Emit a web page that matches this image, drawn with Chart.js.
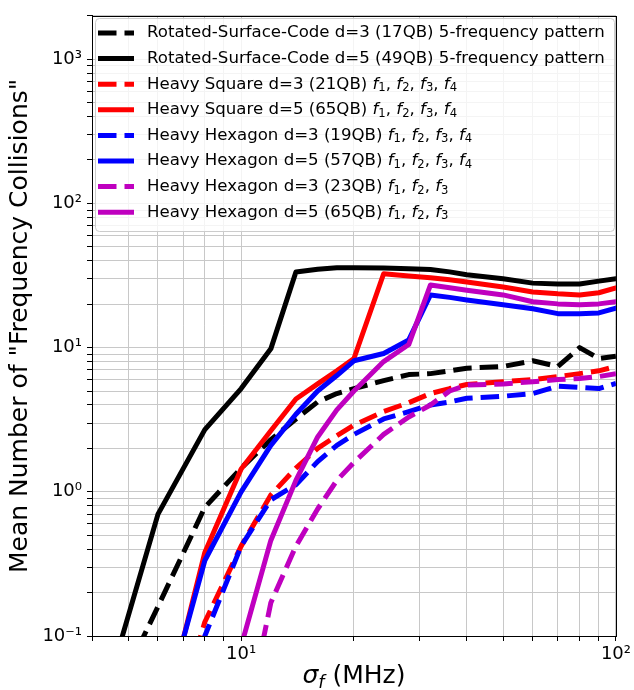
<!DOCTYPE html>
<html>
<head>
<meta charset="utf-8">
<script src="https://cdn.jsdelivr.net/npm/chart.js@4.4.1/dist/chart.umd.min.js"></script>
<style>
  html, body { margin: 0; padding: 0; background: #fff; }
</style>
</head>
<body>
<canvas id="chart" width="634" height="690"></canvas>
<script>
const sigmaValues = [4, 6, 8, 10, 12, 14, 16, 18, 20, 24, 28, 32, 36, 40, 50, 60, 70, 80, 90, 100];

const rsc3 = [0.018, 0.16, 0.78, 1.46, 2.3, 3.2, 4.2, 4.8, 5.2, 5.9, 6.5, 6.6, 6.9, 7.2, 7.4, 8.1, 7.4, 10.0, 8.4, 8.7];
const rsc5 = [0.019, 0.70, 2.7, 5.2, 9.8, 33.4, 35.0, 35.8, 35.8, 35.6, 35.2, 34.8, 33.5, 32.0, 30.0, 28.0, 27.6, 27.6, 28.9, 30.0];
const square3 = [null, 0.01, 0.125, 0.42, 0.95, 1.46, 2.0, 2.45, 2.9, 3.6, 4.15, 4.8, 5.2, 5.55, 5.8, 6.0, 6.3, 6.6, 6.9, 7.4];
const square5 = [null, 0.019, 0.38, 1.44, 2.65, 4.4, 5.6, 6.9, 8.4, 32.5, 31.4, 30.5, 29.5, 28.5, 26.3, 24.3, 23.6, 23.2, 24.0, 25.9];
const hex3 = [null, 0.008, 0.1, 0.42, 0.88, 1.12, 1.62, 2.1, 2.5, 3.2, 3.6, 4.0, 4.2, 4.45, 4.6, 4.8, 5.4, 5.3, 5.2, 5.65];
const hex5 = [null, 0.022, 0.334, 1.0, 2.1, 3.45, 5.0, 6.4, 8.1, 9.1, 11.3, 23.2, 22.3, 21.4, 19.8, 18.6, 17.2, 17.2, 17.4, 18.8];
const hex3b = [null, null, null, 0.017, 0.17, 0.42, 0.76, 1.2, 1.6, 2.5, 3.3, 4.0, 5.0, 5.5, 5.6, 5.8, 6.0, 6.1, 6.3, 6.6];
const hex5b = [null, null, null, 0.085, 0.46, 1.2, 2.4, 3.7, 5.0, 8.0, 10.5, 27.2, 26.0, 25.0, 23.2, 20.8, 20.1, 19.8, 20.1, 20.8];

const seriesNames = [
  "Rotated-Surface-Code d=3 (17QB) 5-frequency pattern",
  "Rotated-Surface-Code d=5 (49QB) 5-frequency pattern",
  "Heavy Square d=3 (21QB)",
  "Heavy Square d=5 (65QB)",
  "Heavy Hexagon d=3 (19QB)",
  "Heavy Hexagon d=5 (57QB)",
  "Heavy Hexagon d=3 (23QB)",
  "Heavy Hexagon d=5 (65QB)"
];
const seriesFreqs = [[], [], [1, 2, 3, 4], [1, 2, 3, 4], [1, 2, 3, 4], [1, 2, 3, 4], [1, 2, 3], [1, 2, 3]];
const seriesColors = ["#000000", "#000000", "#ff0000", "#ff0000", "#0000ff", "#0000ff", "#bf00bf", "#bf00bf"];
const seriesDashed = [true, false, true, false, true, false, true, false];
const seriesData = [rsc3, rsc5, square3, square5, hex3, hex5, hex3b, hex5b];

const xTickValues = [4, 5, 6, 7, 8, 9, 10, 20, 30, 40, 50, 60, 70, 80, 90, 100];
const xMajorTicks = [10, 100];
const xMajorLabels = ["10\u00b9", "10\u00b2"];
const yTickValues = [0.1, 0.2, 0.3, 0.4, 0.5, 0.6, 0.7, 0.8, 0.9,
  1, 2, 3, 4, 5, 6, 7, 8, 9,
  10, 20, 30, 40, 50, 60, 70, 80, 90,
  100, 200, 300, 400, 500, 600, 700, 800, 900, 1000, 2000];
const yMajorTicks = [0.1, 1, 10, 100, 1000];
const yMajorLabels = ["10\u207b\u00b9", "10\u2070", "10\u00b9", "10\u00b2", "10\u00b3"];

const FONT = "DejaVu Sans";
const LW = 5;
const DASH = [18.5, 8];
const gridColor = "#c8c8c8";
const legendSize = 16.6;
const titleSize = 25;

function majorLabel(value, majors, labels) {
  const i = majors.findIndex((m) => Math.abs(m - value) / m < 1e-6);
  return i >= 0 ? labels[i] : "";
}

const datasets = seriesData.map((values, i) => ({
  label: seriesNames[i],
  data: values.map((v, k) => ({ x: sigmaValues[k], y: v })),
  borderColor: seriesColors[i],
  borderWidth: LW,
  borderDash: seriesDashed[i] ? DASH : [],
  borderCapStyle: seriesDashed[i] ? "butt" : "round",
  borderJoinStyle: "round",
  pointRadius: 0,
  fill: false,
  tension: 0,
  spanGaps: false,
  clip: 0,
  order: -i
}));

const decorations = {
  id: "decorations",
  afterDraw(chart) {
    const ctx = chart.ctx;
    const area = chart.chartArea;
    ctx.save();

    // frame
    ctx.strokeStyle = "#000";
    ctx.lineWidth = 1;
    ctx.strokeRect(Math.round(area.left) + 0.5, Math.round(area.top) + 0.5,
      Math.round(area.right - area.left), Math.round(area.bottom - area.top));

    // legend
    const box = { x: 95, y: 18, w: 519, h: 213 };
    ctx.beginPath();
    ctx.roundRect(box.x + 0.5, box.y + 0.5, box.w, box.h, 4);
    ctx.fillStyle = "rgba(255,255,255,0.8)";
    ctx.fill();
    ctx.strokeStyle = "#cccccc";
    ctx.stroke();

    seriesNames.forEach((name, i) => {
      const y = 33 + i * 25.6;
      ctx.beginPath();
      ctx.strokeStyle = seriesColors[i];
      ctx.lineWidth = LW;
      ctx.setLineDash(seriesDashed[i] ? DASH : []);
      ctx.lineCap = "butt";
      ctx.moveTo(98, y);
      ctx.lineTo(134, y);
      ctx.stroke();
      ctx.setLineDash([]);

      ctx.fillStyle = "#000";
      ctx.textBaseline = "middle";
      ctx.textAlign = "left";
      ctx.font = `${legendSize}px "${FONT}"`;
      let x = 147;
      ctx.fillText(name, x, y);
      x += ctx.measureText(name + " ").width;
      const freqs = seriesFreqs[i];
      freqs.forEach((n, k) => {
        ctx.font = `italic ${legendSize}px "${FONT}"`;
        ctx.fillText("f", x, y);
        x += ctx.measureText("f").width;
        ctx.font = `${legendSize * 0.7}px "${FONT}"`;
        ctx.fillText(String(n), x, y + 4);
        x += ctx.measureText(String(n)).width;
        if (k < freqs.length - 1) {
          ctx.font = `${legendSize}px "${FONT}"`;
          ctx.fillText(", ", x, y);
          x += ctx.measureText(", ").width;
        }
      });
    });

    // axis titles
    ctx.fillStyle = "#000";
    ctx.textBaseline = "alphabetic";
    ctx.textAlign = "left";
    ctx.font = `italic ${titleSize}px "${FONT}"`;
    const wSigma = ctx.measureText("\u03c3").width;
    ctx.font = `italic ${titleSize * 0.7}px "${FONT}"`;
    const wF = ctx.measureText("f").width;
    ctx.font = `${titleSize}px "${FONT}"`;
    const wRest = ctx.measureText(" (MHz)").width;
    let tx = (area.left + area.right) / 2 - (wSigma + wF + wRest) / 2;
    const ty = 683;
    ctx.font = `italic ${titleSize}px "${FONT}"`;
    ctx.fillText("\u03c3", tx, ty);
    tx += wSigma;
    ctx.font = `italic ${titleSize * 0.7}px "${FONT}"`;
    ctx.fillText("f", tx, ty + 5);
    tx += wF;
    ctx.font = `${titleSize}px "${FONT}"`;
    ctx.fillText(" (MHz)", tx, ty);

    ctx.translate(20, (area.top + area.bottom) / 2);
    ctx.rotate(-Math.PI / 2);
    ctx.textAlign = "center";
    ctx.textBaseline = "middle";
    ctx.fillText('Mean Number of "Frequency Collisions"', 0, 0);
    ctx.restore();
  }
};

new Chart(document.getElementById("chart"), {
  type: "line",
  data: { datasets },
  plugins: [decorations],
  options: {
    responsive: false,
    animation: false,
    events: [],
    layout: { padding: { left: 30, right: 17, top: 12, bottom: 0 } },
    plugins: { legend: { display: false }, tooltip: { enabled: false } },
    scales: {
      x: {
        type: "logarithmic",
        min: 4,
        max: 100,
        afterBuildTicks: (axis) => { axis.ticks = xTickValues.map((v) => ({ value: v })); },
        afterFit: (scale) => { scale.height = 54; },
        ticks: {
          autoSkip: false,
          maxRotation: 0,
          padding: 3,
          color: "#000",
          font: { family: FONT, size: 18 },
          callback: (value) => majorLabel(value, xMajorTicks, xMajorLabels)
        },
        grid: { color: gridColor, lineWidth: 1, tickLength: 5, tickColor: "#000", tickWidth: 1 },
        border: { color: "#000", width: 1 }
      },
      y: {
        type: "logarithmic",
        min: 0.1,
        max: 2000,
        afterBuildTicks: (axis) => { axis.ticks = yTickValues.map((v) => ({ value: v })); },
        afterFit: (scale) => { scale.width = 62; },
        ticks: {
          autoSkip: false,
          padding: 5,
          color: "#000",
          font: { family: FONT, size: 18 },
          callback: (value) => majorLabel(value, yMajorTicks, yMajorLabels)
        },
        grid: { color: gridColor, lineWidth: 1, tickLength: 5, tickColor: "#000", tickWidth: 1 },
        border: { color: "#000", width: 1 }
      }
    }
  }
});
</script>
</body>
</html>
